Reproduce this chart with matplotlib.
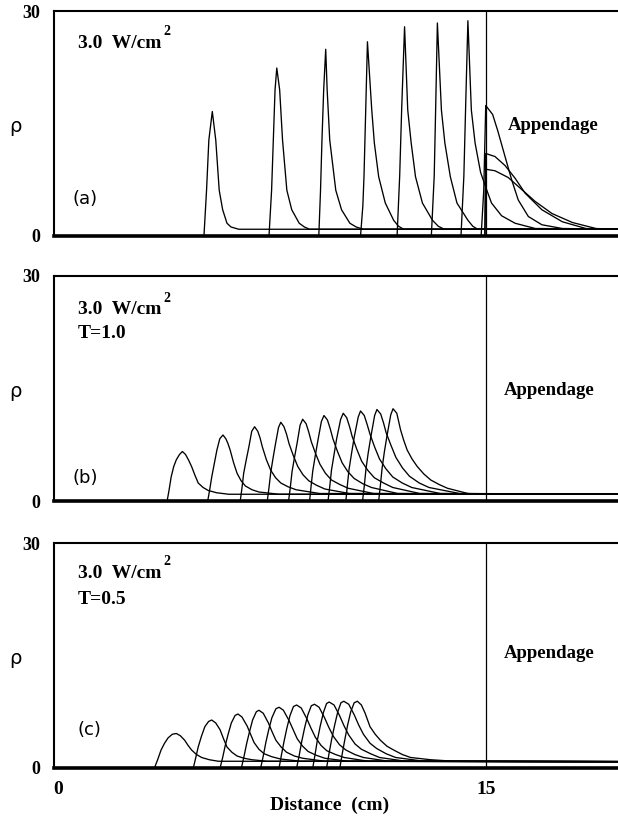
import matplotlib
matplotlib.use("Agg")
import matplotlib.pyplot as plt
from matplotlib.transforms import ScaledTranslation

# ---------------- data ----------------
X_MAX = 19.81
BOUNDARY = 15

# Panel (a): 3.0 W/cm^2
A_X = [
    [5.21, 5.30, 5.38, 5.50, 5.62, 5.74, 5.86, 6.01, 6.15, 6.42, 19.8],
    [7.47, 7.56, 7.62, 7.68, 7.74, 7.84, 7.94, 8.09, 8.26, 8.52, 8.70, 8.88, 19.8],
    [9.20, 9.26, 9.31, 9.37, 9.44, 9.49, 9.58, 9.79, 9.99, 10.28, 10.50, 10.75, 19.8],
    [10.65, 10.73, 10.77, 10.83, 10.89, 11.04, 11.13, 11.28, 11.51, 11.80, 11.97, 12.15, 19.8],
    [11.92, 12.01, 12.08, 12.18, 12.29, 12.41, 12.56, 12.80, 13.15, 13.35, 13.56, 19.8],
    [13.11, 13.21, 13.26, 13.32, 13.46, 13.58, 13.77, 14.00, 14.38, 14.55, 14.72, 19.8],
    [14.14, 14.24, 14.30, 14.38, 14.50, 14.63, 14.82, 15.00, 15.20, 15.55, 16.02, 16.72, 19.8],
    [14.84, 14.93, 15.00, 15.24, 15.42, 15.67, 15.90, 16.13, 16.48, 16.95, 17.66, 19.8],
    [14.97, 15.00, 15.32, 15.67, 16.02, 16.37, 16.95, 17.66, 18.48, 19.28, 19.8],
    [14.97, 15.00, 15.32, 15.78, 16.25, 16.72, 17.30, 18.01, 18.83, 19.53, 19.8],
]
A_RHO = [
    [0, 6.1, 12.8, 16.6, 12.8, 6.1, 3.5, 1.7, 1.2, 0.9, 0.9],
    [0, 6.1, 12.8, 19.5, 22.4, 19.5, 12.8, 6.1, 3.5, 1.7, 1.2, 0.9, 0.9],
    [0, 6.1, 12.8, 19.5, 24.9, 19.5, 12.8, 6.1, 3.5, 1.7, 1.2, 0.9, 0.9],
    [0, 4.0, 7.9, 16.8, 25.9, 16.8, 12.4, 7.9, 4.4, 2.1, 1.3, 0.9, 0.9],
    [0, 8.0, 17.0, 27.9, 16.8, 12.4, 7.9, 4.4, 2.1, 1.3, 0.9, 0.9],
    [0, 8.0, 17.0, 28.4, 16.8, 12.4, 7.9, 4.4, 2.1, 1.3, 0.9, 0.9],
    [0, 8.0, 17.0, 28.7, 16.8, 12.4, 8.5, 6.5, 4.4, 2.7, 1.7, 1.0, 0.9],
    [0, 6.0, 17.4, 16.2, 14.0, 10.6, 7.5, 4.8, 2.6, 1.5, 1.0, 0.9],
    [0, 11.0, 10.6, 9.4, 7.7, 5.7, 3.5, 1.9, 1.0, 0.9, 0.9],
    [0, 8.9, 8.7, 7.8, 6.2, 4.6, 3.0, 1.8, 1.0, 0.9, 0.9],
]

# Panel (b): 3.0 W/cm^2, T=1.0
B_X = [
    [3.93, 4.00, 4.07, 4.16, 4.25, 4.36, 4.46, 4.57, 4.67, 4.78, 4.90, 5.01, 5.18, 5.36, 5.65, 6.07, 19.8],
    [5.34, 5.41, 5.48, 5.57, 5.66, 5.76, 5.87, 5.97, 6.04, 6.12, 6.24, 6.36, 6.50, 6.65, 6.88, 7.12, 7.82, 19.8],
    [6.47, 6.53, 6.59, 6.68, 6.77, 6.87, 6.97, 7.08, 7.16, 7.24, 7.38, 7.53, 7.70, 7.88, 8.13, 8.41, 9.23, 19.8],
    [7.41, 7.47, 7.53, 7.61, 7.69, 7.80, 7.88, 7.99, 8.08, 8.17, 8.32, 8.47, 8.65, 8.85, 9.12, 9.41, 10.26, 19.8],
    [8.15, 8.21, 8.27, 8.36, 8.45, 8.55, 8.64, 8.76, 8.85, 8.94, 9.09, 9.24, 9.43, 9.64, 9.93, 10.22, 11.10, 19.8],
    [8.88, 8.93, 8.99, 9.08, 9.17, 9.29, 9.38, 9.50, 9.60, 9.69, 9.85, 10.01, 10.21, 10.43, 10.73, 11.03, 11.94, 19.8],
    [9.52, 9.58, 9.64, 9.73, 9.82, 9.96, 10.05, 10.17, 10.27, 10.36, 10.52, 10.69, 10.90, 11.13, 11.45, 11.77, 12.71, 19.8],
    [10.14, 10.19, 10.25, 10.34, 10.43, 10.57, 10.65, 10.78, 10.88, 10.98, 11.14, 11.31, 11.53, 11.77, 12.10, 12.43, 13.42, 19.8],
    [10.72, 10.78, 10.84, 10.92, 11.01, 11.14, 11.22, 11.35, 11.45, 11.54, 11.71, 11.88, 12.11, 12.35, 12.69, 13.03, 14.09, 19.8],
    [11.28, 11.34, 11.40, 11.48, 11.57, 11.70, 11.78, 11.91, 12.04, 12.15, 12.27, 12.44, 12.62, 12.85, 13.09, 13.38, 13.67, 14.38, 14.85, 19.8],
]
B_RHO = [
    [0, 1.5, 3.2, 4.6, 5.5, 6.2, 6.6, 6.2, 5.5, 4.6, 3.4, 2.4, 1.8, 1.4, 1.1, 0.9, 0.9],
    [0, 1.5, 3.2, 5.0, 6.8, 8.3, 8.8, 8.3, 7.7, 6.8, 5.1, 3.7, 2.7, 2.0, 1.5, 1.2, 0.9, 0.9],
    [0, 1.7, 3.7, 5.5, 7.2, 9.3, 9.9, 9.3, 8.4, 7.2, 5.5, 4.1, 3.1, 2.4, 1.9, 1.5, 1.0, 0.9],
    [0, 1.8, 3.8, 5.7, 7.5, 9.8, 10.5, 9.9, 8.9, 7.6, 6.0, 4.6, 3.5, 2.7, 2.1, 1.6, 1.0, 0.9],
    [0, 1.8, 3.9, 5.9, 7.8, 10.1, 10.9, 10.3, 9.2, 7.9, 6.3, 4.9, 3.7, 2.8, 2.2, 1.7, 1.0, 0.9],
    [0, 1.9, 4.0, 6.1, 8.1, 10.6, 11.4, 10.8, 9.6, 8.3, 6.6, 5.1, 3.9, 3.0, 2.3, 1.8, 1.0, 0.9],
    [0, 1.9, 4.1, 6.2, 8.3, 10.9, 11.7, 11.1, 9.9, 8.6, 6.9, 5.3, 4.1, 3.1, 2.4, 1.8, 1.0, 0.9],
    [0, 2.0, 4.2, 6.4, 8.5, 11.2, 12.0, 11.4, 10.2, 8.9, 7.2, 5.6, 4.3, 3.2, 2.4, 1.8, 1.0, 0.9],
    [0, 2.0, 4.3, 6.5, 8.6, 11.4, 12.2, 11.6, 10.4, 9.1, 7.4, 5.8, 4.4, 3.3, 2.4, 1.8, 1.0, 0.9],
    [0, 2.1, 4.4, 6.6, 8.7, 11.5, 12.3, 11.7, 9.5, 8.1, 6.8, 5.6, 4.6, 3.6, 2.8, 2.2, 1.7, 1.0, 0.9, 0.9],
]

# Panel (c): 3.0 W/cm^2, T=0.5
C_X = [
    [3.49, 3.60, 3.72, 3.84, 3.96, 4.11, 4.25, 4.39, 4.54, 4.66, 4.78, 4.95, 5.13, 5.40, 5.71, 19.8],
    [4.84, 4.92, 5.01, 5.12, 5.24, 5.37, 5.48, 5.62, 5.77, 5.89, 6.01, 6.18, 6.36, 6.60, 6.88, 7.41, 19.8],
    [5.77, 5.86, 5.95, 6.05, 6.16, 6.29, 6.39, 6.53, 6.71, 6.83, 6.95, 7.12, 7.30, 7.57, 7.87, 8.57, 19.8],
    [6.51, 6.60, 6.69, 6.79, 6.90, 7.03, 7.12, 7.27, 7.45, 7.58, 7.71, 7.89, 8.08, 8.35, 8.64, 9.41, 19.8],
    [7.18, 7.27, 7.36, 7.46, 7.57, 7.71, 7.82, 7.97, 8.17, 8.31, 8.45, 8.64, 8.83, 9.11, 9.41, 10.22, 19.8],
    [7.82, 7.90, 7.99, 8.09, 8.20, 8.32, 8.43, 8.59, 8.78, 8.93, 9.08, 9.28, 9.48, 9.78, 10.08, 10.92, 19.8],
    [8.43, 8.52, 8.61, 8.71, 8.82, 8.94, 9.05, 9.21, 9.40, 9.55, 9.71, 9.92, 10.14, 10.45, 10.75, 11.63, 19.8],
    [8.99, 9.07, 9.15, 9.25, 9.36, 9.47, 9.56, 9.73, 9.92, 10.08, 10.24, 10.46, 10.68, 11.00, 11.31, 12.22, 19.8],
    [9.47, 9.55, 9.64, 9.75, 9.86, 9.97, 10.07, 10.24, 10.43, 10.59, 10.75, 10.98, 11.21, 11.54, 11.87, 12.86, 19.8],
    [9.93, 10.01, 10.10, 10.20, 10.31, 10.43, 10.54, 10.68, 10.81, 10.98, 11.16, 11.34, 11.57, 11.80, 12.10, 12.39, 13.09, 13.91, 19.8],
]
C_RHO = [
    [0, 1.1, 2.4, 3.3, 4.0, 4.5, 4.6, 4.3, 3.7, 3.0, 2.4, 1.8, 1.4, 1.1, 0.9, 0.85],
    [0, 1.3, 2.8, 4.2, 5.5, 6.2, 6.4, 6.0, 5.1, 3.9, 2.8, 2.1, 1.6, 1.3, 1.1, 0.9, 0.85],
    [0, 1.4, 3.0, 4.5, 6.0, 7.0, 7.2, 6.8, 5.6, 4.5, 3.4, 2.5, 1.9, 1.5, 1.2, 0.9, 0.85],
    [0, 1.5, 3.2, 4.8, 6.4, 7.5, 7.7, 7.3, 6.0, 4.8, 3.7, 2.8, 2.1, 1.6, 1.3, 0.9, 0.85],
    [0, 1.6, 3.4, 5.1, 6.7, 7.9, 8.1, 7.7, 6.3, 5.1, 3.9, 2.9, 2.2, 1.7, 1.3, 0.9, 0.85],
    [0, 1.7, 3.5, 5.3, 7.0, 8.2, 8.4, 8.0, 6.6, 5.3, 4.1, 3.0, 2.3, 1.8, 1.4, 0.9, 0.85],
    [0, 1.7, 3.6, 5.4, 7.1, 8.3, 8.5, 8.1, 6.7, 5.4, 4.2, 3.1, 2.4, 1.8, 1.4, 0.9, 0.85],
    [0, 1.8, 3.7, 5.6, 7.4, 8.6, 8.8, 8.4, 7.0, 5.6, 4.4, 3.2, 2.5, 1.9, 1.4, 0.9, 0.85],
    [0, 1.8, 3.7, 5.7, 7.5, 8.7, 8.9, 8.5, 7.1, 5.7, 4.5, 3.3, 2.6, 1.9, 1.4, 0.9, 0.85],
    [0, 1.8, 3.7, 5.7, 7.5, 8.7, 8.9, 8.4, 7.3, 5.5, 4.5, 3.7, 2.9, 2.4, 1.8, 1.4, 1.1, 0.9, 0.85],
]

PANEL_LABELS = ["(a)", "(b)", "(c)"]
POWER_TEXT = "3.0  W/cm"
T_TEXT = [None, "T=1.0", "T=0.5"]
REGION_TEXT = "Appendage"
Y_TICKS = [0, 30]
X_TICKS = [0, 15]
X_LABEL = "Distance  (cm)"
Y_LABEL = "ρ"

# ---------------- drawing ----------------
SERIF = dict(family="Liberation Serif", weight="bold")

fig = plt.figure(figsize=(6.18, 8.19), dpi=100)
W, H = 618.0, 819.0
left_px = 54
panels_px = [(11, 236), (276, 501), (543, 768)]

data = [(A_X, A_RHO), (B_X, B_RHO), (C_X, C_RHO)]
power_y = [25.7, 25.5, 26.0]
t_y = [None, 22.4, 22.4]
lab_pos = [(0.66, 5.0), (0.65, 3.1), (0.80, 5.1)]
app_pos = [(15.77, 14.8), (15.62, 14.7), (15.62, 15.2)]

for i, (top, bot) in enumerate(panels_px):
    ax = fig.add_axes([left_px / W, 1 - bot / H, 1 - left_px / W + 0.01, (bot - top) / H])
    ax.set_xlim(0, X_MAX)
    ax.set_ylim(0, 30)
    xs, ys = data[i]
    for x, y in zip(xs, ys):
        ax.plot(x, y, color="black", lw=0.95, solid_joinstyle="round")
    ax.axvline(BOUNDARY, color="black", lw=0.9)

    ax.spines["right"].set_visible(False)
    ax.spines["top"].set_linewidth(1.5)
    ax.spines["left"].set_linewidth(1.5)
    ax.spines["bottom"].set_linewidth(2.6)
    for s in ax.spines.values():
        s.set_zorder(5)

    ax.set_yticks(Y_TICKS)
    ax.set_yticklabels([str(v) for v in Y_TICKS], fontdict=dict(SERIF, size=13))
    ax.tick_params(axis="y", length=0, pad=10)
    if i == 2:
        ax.set_xticks(X_TICKS)
        ax.set_xticklabels([str(v) for v in X_TICKS], fontdict=dict(SERIF, size=14))
        ax.tick_params(axis="x", length=0, pad=9)
        lbl0 = ax.get_xticklabels()[0]
        lbl0.set_transform(lbl0.get_transform() +
                           ScaledTranslation(4 / 100, 0, fig.dpi_scale_trans))
    else:
        ax.set_xticks([])

    ax.text(-1.35, 14.6, Y_LABEL, family="DejaVu Sans", fontsize=14,
            ha="center", va="center")
    t = ax.text(0.82, power_y[i], POWER_TEXT, fontdict=dict(SERIF, size=14),
                ha="left", va="center")
    ax.annotate("2", xy=(1, 0.8), xycoords=t, xytext=(1.5, 0),
                textcoords="offset points", ha="left", va="bottom",
                fontfamily="Liberation Serif", fontweight="bold", fontsize=10)
    if T_TEXT[i]:
        ax.text(0.82, t_y[i], T_TEXT[i], fontdict=dict(SERIF, size=14),
                ha="left", va="center")
    ax.text(lab_pos[i][0], lab_pos[i][1], PANEL_LABELS[i], family="DejaVu Sans",
            fontsize=13, ha="left", va="center")
    ax.text(app_pos[i][0], app_pos[i][1], REGION_TEXT, fontdict=dict(SERIF, size=13.5),
            ha="left", va="center")

fig.text(330 / W, 1 - 805 / H, X_LABEL, fontdict=dict(SERIF, size=14),
         ha="center", va="center")

fig.savefig("out.png", dpi=100)
